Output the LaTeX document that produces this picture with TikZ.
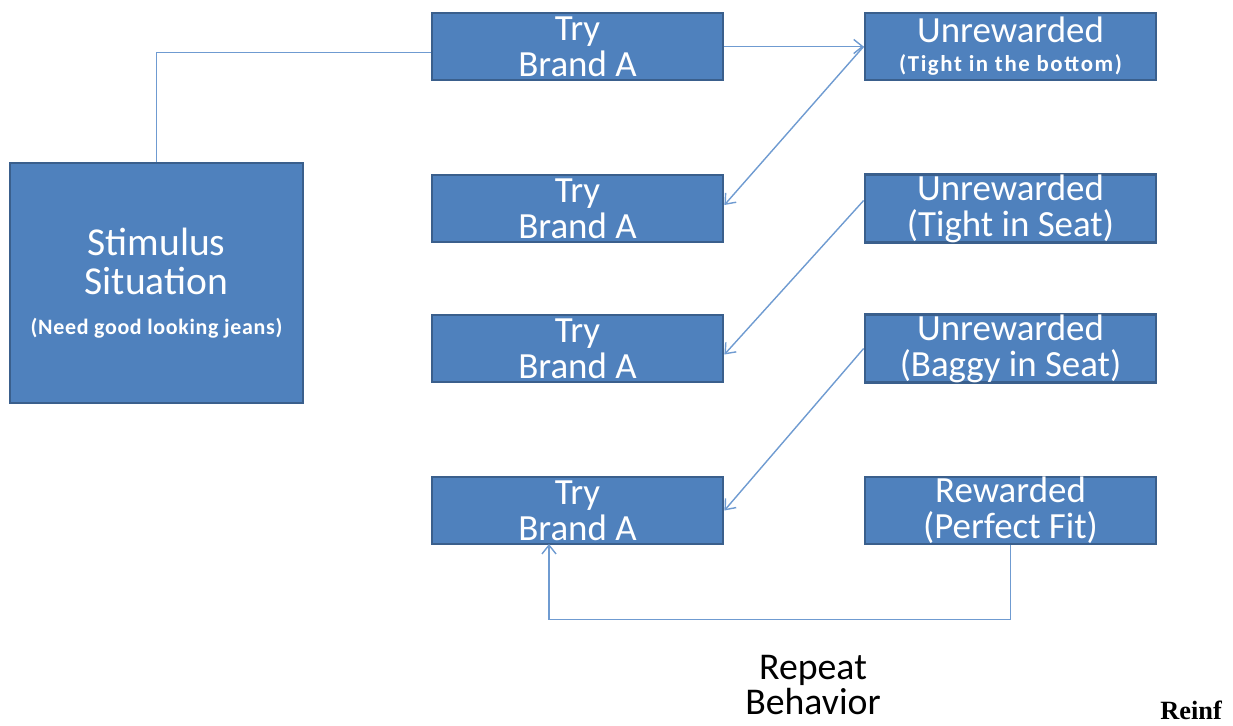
\documentclass[tikz,border=0pt]{standalone}
\usepackage{fontspec}
\setmainfont{Carlito}
\newfontfamily\reinffont{Liberation Serif}
\usetikzlibrary{arrows.meta}
\definecolor{boxfill}{HTML}{4F81BD}
\definecolor{boxline}{HTML}{3A5F8C}
\definecolor{linkblue}{HTML}{6F9BD1}
\begin{document}
\begin{tikzpicture}[x=0.02cm,y=-0.02cm,
		stepbox/.style={draw=boxline,fill=boxfill,line width=1.6pt,text=white,inner sep=0pt,
			minimum width=5.82cm,minimum height=1.34cm,align=center,
			font=\fontsize{21}{20.5}\selectfont},
		link/.style={draw=linkblue,line width=0.8pt},
		tip/.style={-{Straight Barb[length=5pt,width=8pt]}}]
						\useasboundingbox (0,0) rectangle (1233,725);
						\node[stepbox,minimum width=5.86cm,minimum height=4.8cm,font=\fontsize{22.5}{22.5}\selectfont] (stim) at (156.5,283)
							{Stimulus\\Situation\\{\fontsize{12.5}{12.5}\selectfont\bfseries\addfontfeatures{LetterSpace=3}(Need good looking jeans)}};
						\node[stepbox] (try1) at (577.5,46.5) {Try\\Brand A};
						\node[stepbox] (try2) at (577.5,208.5) {Try\\Brand A};
						\node[stepbox] (try3) at (577.5,348.5) {Try\\Brand A};
						\node[stepbox] (try4) at (577.5,510.5) {Try\\Brand A};
						\node[stepbox] (unr1) at (1010.5,46.5) {Unrewarded\\[-4pt]{\fontsize{13}{13}\selectfont\bfseries\addfontfeatures{LetterSpace=7}(Tight in the bottom)}};
						\node[stepbox] (unr2) at (1010.5,208.5) {Unrewarded\\(Tight in Seat)};
						\node[stepbox] (unr3) at (1010.5,348.5) {Unrewarded\\(Baggy in Seat)};
						\node[stepbox] (rew) at (1010.5,510.5) {Rewarded\\(Perfect Fit)};
						\coordinate (loop) at (549,544);
						\draw[link] (stim.north) |- ([yshift=-0.12cm]try1.west);
						\draw[link,tip] (try1.east) -- (unr1.west);
						\draw[link,tip] (unr1.west) -- ([yshift=0.07cm]try2.east);
						\draw[link,tip] ([yshift=0.16cm]unr2.west) -- ([yshift=-0.12cm]try3.east);
						\draw[link,tip] (unr3.west) -- (try4.east);
						\draw[link,tip] (rew.south) -- ++(0,74) -| (loop);
						\node[align=center,font=\fontsize{21.5}{19.8}\selectfont] (repeat) at (813,685) {Repeat\\Behavior};
						\node[anchor=base west,inner sep=0pt,font=\reinffont\bfseries\fontsize{15}{15}\selectfont] (reinf) at (1160,719) {Reinf};
					\end{tikzpicture}
\end{document}
